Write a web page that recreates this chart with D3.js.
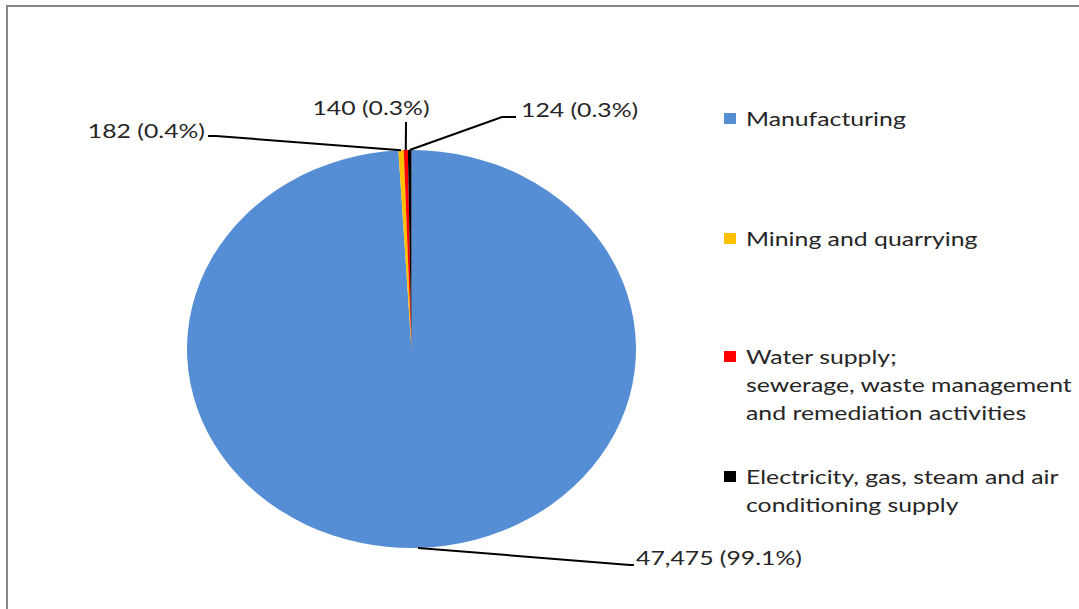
<!DOCTYPE html>
<html><head><meta charset="utf-8">
<script src="https://cdn.jsdelivr.net/npm/d3@7"></script>
<style>body{margin:0;background:#fff}svg{display:block}text{font-family:Lato,"Open Sans",sans-serif;fill:#262626}</style>
</head><body><svg id="c" width="1079" height="609"></svg>
<script>
const categories = ["Manufacturing","Mining and quarrying","Water supply; sewerage, waste management and remediation activities","Electricity, gas, steam and air conditioning supply"];
const legendLines = [["Manufacturing"],["Mining and quarrying"],["Water supply;","sewerage, waste management","and remediation activities"],["Electricity, gas, steam and air","conditioning supply"]];
const values = [47475, 182, 140, 124];
const labels = ["47,475 (99.1%)","182 (0.4%)","140 (0.3%)","124 (0.3%)"];
const colors = ["#558ED5","#FFC000","#FF0000","#000000"];

const svg = d3.select("#c");
svg.append("rect").attr("x",7).attr("y",6).attr("width",1080).attr("height",620)
  .attr("fill","none").attr("stroke","#878787").attr("stroke-width",2);

const cx=411.5, cy=349, rx=224.5, ry=199, sx=rx/ry;
const pie = d3.pie().sort(null).value(d=>d)(values);
const arc = d3.arc().innerRadius(0).outerRadius(ry);
const g = svg.append("g").attr("transform",`translate(${cx},${cy}) scale(${sx},1)`);
g.selectAll("path").data(pie).join("path").attr("d",arc).attr("fill",(d,i)=>colors[i]);

function edge(d){const a=(d.startAngle+d.endAngle)/2;return [cx+rx*Math.sin(a), cy-ry*Math.cos(a)];}
const fs=20, tsx=1.24;
function txt(parent,x,y,t,anchor){
  return parent.append("text").attr("transform",`translate(${x},${y}) scale(${tsx},1)`)
    .attr("text-anchor",anchor||"start").attr("font-size",fs).text(t);
}
const lay = [
  {pts:[[630,565],[634,565]], tx:636, ty:565, anchor:"start"},
  {pts:[[216,136],[208,136]], tx:205, ty:138, anchor:"end"},
  {pts:[[406,122]], tx:371, ty:115, anchor:"middle"},
  {pts:[[502,117],[516,117]], tx:521, ty:117, anchor:"start"}
];
pie.forEach((d,i)=>{
  const p0=edge(d); const L=lay[i];
  svg.append("path").attr("d",d3.line()([p0,...L.pts])).attr("fill","none").attr("stroke","#000").attr("stroke-width",2);
  txt(svg,L.tx,L.ty,labels[i],L.anchor);
});
const legY=[119,239,357,477];
const lg=svg.append("g");
legendLines.forEach((lines,i)=>{
  lg.append("rect").attr("x",724).attr("y",legY[i]-6).attr("width",12).attr("height",11).attr("fill",colors[i]);
  lines.forEach((t,j)=>txt(lg,746,legY[i]+7+j*28,t));
});
</script></body></html>
